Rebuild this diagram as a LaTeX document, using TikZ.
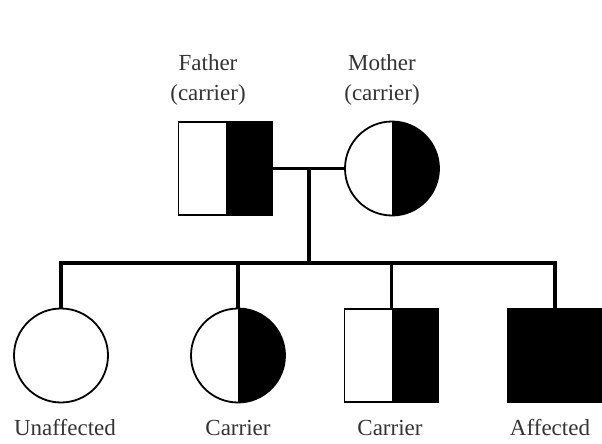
\documentclass[tikz,border=0pt]{standalone}
\usepackage{fontspec}
\setmainfont{Liberation Serif}
\begin{document}
\begin{tikzpicture}[x=1pt,y=-1pt,
  symbol/.style={draw=black, line width=1.8pt, fill=white, inner sep=0pt},
  male/.style={symbol, rectangle, minimum width=94pt, minimum height=93pt},
  female/.style={symbol, circle, minimum size=94pt},
  carrier/.style={path picture={\fill[black] (path picture bounding box.north west) ++(47pt,0) rectangle (path picture bounding box.south east);}},
  affected/.style={fill=black},
  link/.style={line width=3.2pt, line cap=rect},
  caption/.style={font=\fontsize{23}{30}\selectfont, text=black!80, align=center, inner sep=0pt}
]
\useasboundingbox (0,0) rectangle (602,444);

% parents
\node[male, carrier] (father) at (225.5,168.5) {};
\node[female, carrier] (mother) at (392,168.5) {};
\node[caption] (fatherlbl) at (208,80) {Father\\(carrier)};
\node[caption] (motherlbl) at (382,80) {Mother\\(carrier)};

% children
\node[female] (c1) at (61,355.5) {};
\node[female, carrier] (c2) at (238,355.5) {};
\node[male, carrier] (c3) at (391.5,355.5) {};
\node[male, affected] (c4) at (555,355.5) {};
\node[caption] (l1) at (65,428) {Unaffected};
\node[caption] (l2) at (238,428) {Carrier};
\node[caption] (l3) at (390,428) {Carrier};
\node[caption] (l4) at (550,428) {Affected};

% mating line, descent line and sibship line
\coordinate (mid) at (309,168.5);
\coordinate (sib) at (309,263);
\draw[link] (father.east) -- (mother.west);
\draw[link] (mid) -- (sib);
\draw[link] (c1.north) |- (sib) -| (c4.north);
\draw[link] (c2.north) -- (c2.north |- sib);
\draw[link] (c3.north) -- (c3.north |- sib);
\end{tikzpicture}
\end{document}
